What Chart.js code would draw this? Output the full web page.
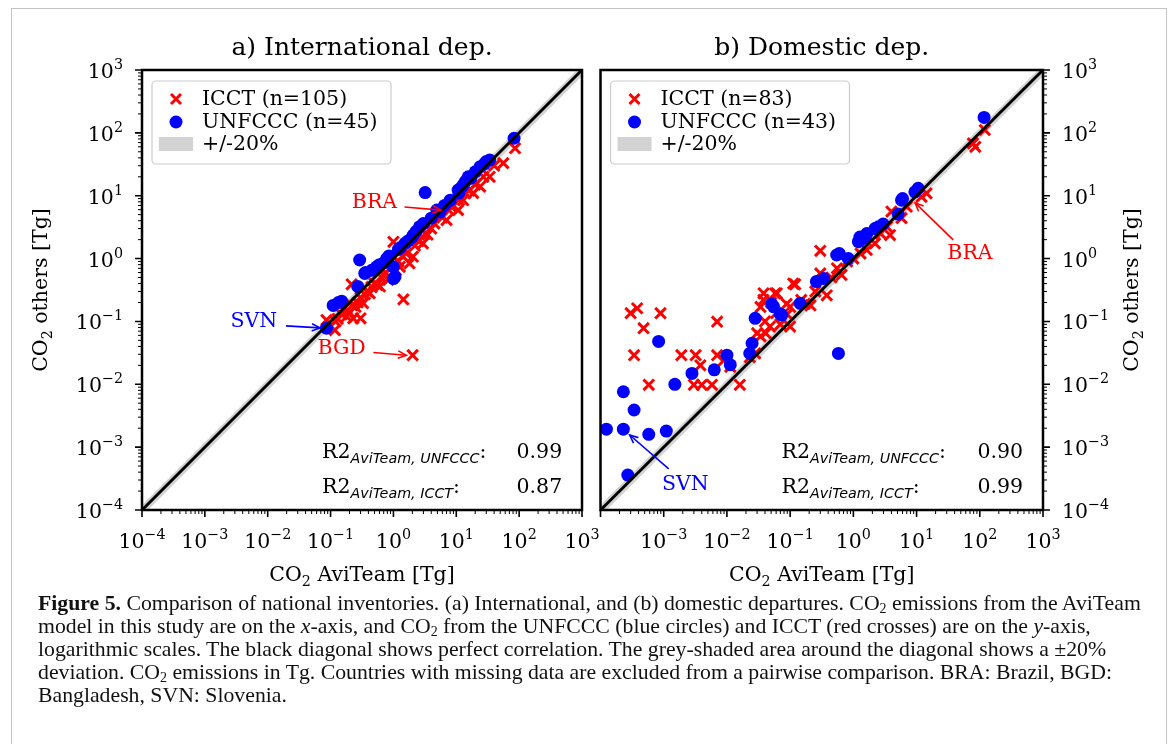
<!DOCTYPE html>
<html>
<head>
<meta charset="utf-8">
<script src="https://cdn.jsdelivr.net/npm/chart.js@4.4.1/dist/chart.umd.min.js"></script>
<style>
  html, body { margin: 0; padding: 0; background: #fff; }
  body { width: 1173px; height: 744px; position: relative; overflow: hidden; }
  .frame { position: absolute; left: 11px; top: 8px; width: 1154px; height: 800px;
           border: 1.5px solid #c4c4c4; border-bottom: none; }
  .panel { position: absolute; top: 0; height: 600px; }
  #boxA { left: 0; width: 600px; }
  #boxB { left: 590px; width: 583px; }
  .caption { position: absolute; left: 38px; top: 592px; font-family: "Liberation Serif", serif;
             font-size: 21.75px; line-height: 23px; color: #111; white-space: nowrap; }
  .caption sub { font-size: 14px; vertical-align: -3px; line-height: 0; }
</style>
</head>
<body>
<div class="frame"></div>
<div class="panel" id="boxA"><canvas id="chartA"></canvas></div>
<div class="panel" id="boxB"><canvas id="chartB"></canvas></div>
<div class="caption">
<b>Figure 5.</b> Comparison of national inventories. (a) International, and (b) domestic departures. CO<sub>2</sub> emissions from the AviTeam<br>
model in this study are on the <i>x</i>-axis, and CO<sub>2</sub> from the UNFCCC (blue circles) and ICCT (red crosses) are on the <i>y</i>-axis,<br>
logarithmic scales. The black diagonal shows perfect correlation. The grey-shaded area around the diagonal shows a ±20%<br>
deviation. CO<sub>2</sub> emissions in Tg. Countries with missing data are excluded from a pairwise comparison. BRA: Brazil, BGD:<br>
Bangladesh, SVN: Slovenia.
</div>
<script>
// ---- data (Tg CO2), [AviTeam, other inventory] ----
const intlIcct = [
  [0.086,0.105],[0.1,0.085],[0.117,0.073],[0.12,0.1],[0.13,0.11],[0.15,0.13],[0.16,0.155],[0.18,0.12],
  [0.2,0.14],[0.22,0.18],[0.216,0.39],[0.23,0.112],[0.25,0.17],[0.27,0.2],[0.3,0.112],[0.3,0.24],
  [0.33,0.195],[0.35,0.27],[0.38,0.3],[0.42,0.28],[0.45,0.35],[0.5,0.4],[0.55,0.38],[0.61,0.36],
  [0.65,0.5],[0.7,0.55],[0.75,0.6],[0.83,0.46],[0.9,0.7],[1.0,1.85],[1.0,0.8],[1.1,0.65],[1.2,0.9],
  [1.26,0.74],[1.44,0.224],[1.4,1.1],[1.6,1.2],[1.8,0.84],[2.02,0.029],[2.04,1.07],[2.2,1.6],[2.5,1.9],
  [2.95,1.74],[3.2,2.5],[3.5,2.4],[4.0,3.0],[4.5,3.6],[5.2,5.5],[5.5,5.2],[6.0,4.5],[7,4.1],[7.5,6],
  [8.5,6.5],[10.7,5.9],[11,8.5],[12.9,8.5],[14,11],[16,12],[18.6,11],[20,15],[24,14],[27,20],[34,20],
  [40,30],[56,33],[86,57]
];
const intlUnfccc = [
  [0.086,0.078],[0.11,0.18],[0.133,0.2],[0.15,0.21],[0.27,0.36],[0.29,0.95],[0.35,0.58],[0.36,0.6],
  [0.45,0.65],[0.54,0.74],[0.6,0.8],[0.7,0.85],[0.78,1.0],[0.85,1.1],[1.0,0.74],[1.06,0.51],[1.0,0.48],
  [1.2,1.4],[1.3,1.5],[1.53,1.75],[1.7,1.9],[2.0,2.2],[2.07,2.37],[2.3,2.7],[2.6,3.2],[3.0,3.6],
  [3.2,11.2],[4.0,4.4],[4.9,5.9],[5.5,5.5],[6.5,7],[8,8.5],[10.7,12.3],[11,11],[12,13.5],[13,15],
  [14,17],[15.5,20],[17,19],[20,24],[24,29],[28,32],[30,35],[34,37],[83,82]
];
const domIcct = [
  [120,111],[78,68],[85,60],[14.4,10.9],[12,9.6],[7,6.7],[5.8,4.4],[4,5.6],[3.8,2.37],[3.4,3.2],
  [2.7,2.5],[2.2,1.74],[1.63,1.37],[1.3,1.2],[1.0,1.0],[0.8,0.9],[0.3,1.33],[0.65,0.55],[0.55,0.7],
  [0.45,0.5],[0.38,0.26],[0.3,0.58],[0.25,0.3],[0.12,0.39],[0.21,0.18],[0.17,0.19],[0.15,0.22],
  [0.1,0.17],[0.088,0.19],[0.09,0.13],[0.058,0.28],[0.038,0.28],[0.034,0.17],[0.06,0.135],[0.04,0.1],
  [0.05,0.2],[0.048,0.083],[0.041,0.065],[0.034,0.058],[0.03,0.065],[0.07,0.09],[0.1,0.083],
  [0.028,0.031],[0.023,0.027],[0.007,0.099],[0.007,0.029],[0.0089,0.024],[0.0113,0.019],[0.0038,0.02],
  [0.0032,0.029],[0.0019,0.029],[0.003,0.0098],[0.004,0.0098],[0.0058,0.0098],[0.016,0.0098],
  [0.00058,0.0098],[0.00034,0.029],[0.00048,0.078],[0.0003,0.135],[0.00038,0.162],[0.00089,0.135],
  [0.0615,0.28],[0.112,0.4],[0.0378,0.22]
];
const domUnfccc = [
  [117,176],[10.6,13.1],[9.4,11.5],[5.8,8.5],[5.1,5.1],[6,9],[2.96,3.55],[2.5,3.2],[2.2,3.0],
  [1.63,2.5],[1.5,2.1],[1.27,2.2],[1.2,1.86],[0.545,1.14],[0.6,1.2],[0.58,0.031],[0.83,1.0],
  [0.34,0.48],[0.26,0.43],[0.144,0.194],[0.074,0.126],[0.055,0.171],[0.051,0.19],[0.07,0.13],
  [0.028,0.112],[0.025,0.045],[0.023,0.031],[0.01,0.029],[0.0113,0.0204],[0.0063,0.017],
  [0.0028,0.0149],[0.0015,0.01],[0.00083,0.048],[0.00023,0.0076],[0.00034,0.0039],
  [0.000124,0.00193],[0.00023,0.00193],[0.00058,0.0016],[0.0011,0.0018],[0.00027,0.00036]
];

// axis limits and tick exponents
const axisRange = [1e-4, 1e3];
const xTicksIntl = [-4, -3, -2, -1, 0, 1, 2, 3];
const xTicksDom = [-3, -2, -1, 0, 1, 2, 3];
const yTicks = [-4, -3, -2, -1, 0, 1, 2, 3];
const band = 0.2;

const titles = ['a) International dep.', 'b) Domestic dep.'];
const legendIntl = ['ICCT (n=105)', 'UNFCCC (n=45)', '+/-20%'];
const legendDom = ['ICCT (n=83)', 'UNFCCC (n=43)', '+/-20%'];
const r2Intl = ['0.99', '0.87'];
const r2Dom = ['0.90', '0.99'];

// annotations: label, text position, arrow tail, arrow head (data coords)
const notesIntl = [
  { text: 'BRA', color: '#ff0000', at: [0.5, 7.7], from: [1.5, 6.6], to: [5.7, 5.9] },
  { text: 'SVN', color: '#0000ff', at: [0.006, 0.1], from: [0.0195, 0.085], to: [0.068, 0.079] },
  { text: 'BGD', color: '#ff0000', at: [0.15, 0.037], from: [0.48, 0.032], to: [1.6, 0.029] }
];
const notesDom = [
  { text: 'BRA', color: '#ff0000', at: [70, 1.21], from: [38, 1.98], to: [9.5, 7.7] },
  { text: 'SVN', color: '#0000ff', at: [0.0022, 0.00025], from: [0.0012, 0.00045], to: [0.00029, 0.00156] }
];

const SERIF = '"DejaVu Serif", serif';
const SANS = '"DejaVu Sans", sans-serif';
const RED = '#ff0000', BLUE = '#0000ff', GREY = '#d3d3d3';
const FS = 20.5, FSS = 14.3;

// draw a sequence of text runs (for sub/superscripts)
function runs(ctx, parts, x, y, align) {
  let w = 0;
  parts.forEach(p => { ctx.font = p.font; w += ctx.measureText(p.t).width; });
  let cx = align === 'center' ? x - w / 2 : align === 'right' ? x - w : x;
  ctx.textAlign = 'left';
  parts.forEach(p => {
    ctx.font = p.font;
    ctx.fillText(p.t, cx, y + (p.dy || 0));
    cx += ctx.measureText(p.t).width;
  });
}
function pow10(e) {
  const s = e < 0 ? '\u2212' + Math.abs(e) : String(e);
  return [{ t: '10', font: FS + 'px ' + SERIF }, { t: s, font: FSS + 'px ' + SERIF, dy: -9 }];
}
function co2(rest) {
  return [{ t: 'CO', font: FS + 'px ' + SERIF }, { t: '2', font: FSS + 'px ' + SERIF, dy: 4.5 },
          { t: rest, font: FS + 'px ' + SERIF }];
}

function arrow(ctx, x1, y1, x2, y2, color) {
  const ang = Math.atan2(y2 - y1, x2 - x1), L = 9, spread = 0.42;
  ctx.strokeStyle = color; ctx.lineWidth = 1.6;
  ctx.beginPath(); ctx.moveTo(x1, y1); ctx.lineTo(x2, y2); ctx.stroke();
  ctx.beginPath();
  ctx.moveTo(x2 - L * Math.cos(ang - spread), y2 - L * Math.sin(ang - spread));
  ctx.lineTo(x2, y2);
  ctx.lineTo(x2 - L * Math.cos(ang + spread), y2 - L * Math.sin(ang + spread));
  ctx.stroke();
}

const deco = {
  id: 'deco',
  afterDraw(chart, args, o) {
    const { ctx, chartArea: a, scales: { x, y } } = chart;
    ctx.save();
    ctx.textBaseline = 'alphabetic';

    // annotations
    o.notes.forEach(n => {
      arrow(ctx, x.getPixelForValue(n.from[0]), y.getPixelForValue(n.from[1]),
            x.getPixelForValue(n.to[0]), y.getPixelForValue(n.to[1]), n.color);
      ctx.fillStyle = n.color; ctx.font = FS + 'px ' + SERIF; ctx.textAlign = 'center';
      ctx.textBaseline = 'middle';
      ctx.fillText(n.text, x.getPixelForValue(n.at[0]), y.getPixelForValue(n.at[1]));
      ctx.textBaseline = 'alphabetic';
    });

    // R2 text
    const subs = ['AviTeam, UNFCCC', 'AviTeam, ICCT'];
    [0, 1].forEach(i => {
      const by = a.top + a.height * (i === 0 ? 0.882 : 0.962);
      ctx.fillStyle = '#000';
      runs(ctx, [{ t: 'R2', font: FS + 'px ' + SERIF },
                 { t: subs[i], font: 'oblique ' + FSS + 'px ' + SANS, dy: 4.5 },
                 { t: ':', font: FS + 'px ' + SERIF }], a.left + a.width * 0.409, by, 'left');
      ctx.font = FS + 'px ' + SERIF; ctx.textAlign = 'right';
      ctx.fillText(o.r2[i], a.left + a.width * 0.955, by);
    });

    // legend
    const lx = a.left + 10, ly = a.top + 11, lw = 239, lh = 83;
    ctx.fillStyle = 'rgba(255,255,255,0.8)'; ctx.strokeStyle = '#cccccc'; ctx.lineWidth = 1.2;
    ctx.beginPath(); ctx.roundRect(lx, ly, lw, lh, 4); ctx.fill(); ctx.stroke();
    const rows = [ly + 18, ly + 41, ly + 63];
    const mx = lx + 24;
    ctx.strokeStyle = RED; ctx.lineWidth = 3;
    ctx.beginPath(); ctx.moveTo(mx - 5, rows[0] - 5); ctx.lineTo(mx + 5, rows[0] + 5);
    ctx.moveTo(mx + 5, rows[0] - 5); ctx.lineTo(mx - 5, rows[0] + 5); ctx.stroke();
    ctx.fillStyle = BLUE; ctx.beginPath(); ctx.arc(mx, rows[1], 6.5, 0, Math.PI * 2); ctx.fill();
    ctx.fillStyle = GREY; ctx.fillRect(lx + 7, rows[2] - 7, 34, 14);
    ctx.fillStyle = '#000'; ctx.font = FS + 'px ' + SERIF; ctx.textAlign = 'left'; ctx.textBaseline = 'middle';
    o.legend.forEach((t, i) => ctx.fillText(t, lx + 50, rows[i] + 1));
    ctx.textBaseline = 'alphabetic';

    // frame
    ctx.strokeStyle = '#000'; ctx.lineWidth = 2.5;
    ctx.strokeRect(a.left, a.top, a.width, a.height);

    // ticks
    const side = o.ySide;
    for (let e = -4; e <= 3; e++) {
      for (let m = 1; m <= 9; m++) {
        if (e === 3 && m > 1) break;
        const v = m * Math.pow(10, e), major = m === 1;
        const len = major ? 7 : 4;
        ctx.lineWidth = major ? 1.6 : 1;
        const px = x.getPixelForValue(v), py = y.getPixelForValue(v);
        ctx.beginPath();
        ctx.moveTo(px, a.bottom); ctx.lineTo(px, a.bottom + len);
        if (side === 'left') { ctx.moveTo(a.left, py); ctx.lineTo(a.left - len, py); }
        else { ctx.moveTo(a.right, py); ctx.lineTo(a.right + len, py); }
        ctx.stroke();
      }
    }

    // tick labels
    ctx.fillStyle = '#000';
    o.xTicks.forEach(e => runs(ctx, pow10(e), x.getPixelForValue(Math.pow(10, e)), a.bottom + 38, 'center'));
    yTicks.forEach(e => {
      const py = y.getPixelForValue(Math.pow(10, e)) + 8;
      if (side === 'left') runs(ctx, pow10(e), a.left - 19, py, 'right');
      else runs(ctx, pow10(e), a.right + 19, py, 'left');
    });

    // axis titles
    runs(ctx, co2(' AviTeam [Tg]'), (a.left + a.right) / 2, a.bottom + 71, 'center');
    ctx.save();
    const ty = (a.top + a.bottom) / 2;
    ctx.translate(side === 'left' ? a.left - 95 : a.right + 95, ty);
    ctx.rotate(-Math.PI / 2);
    runs(ctx, co2(' others [Tg]'), 0, 0, 'center');
    ctx.restore();

    // panel title
    ctx.font = '25px ' + SERIF; ctx.textAlign = 'center';
    ctx.fillText(o.title, (a.left + a.right) / 2, a.top - 15);
    ctx.restore();
  }
};

function pts(list) { return list.map(p => ({ x: p[0], y: p[1] })); }

function makeChart(id, icct, unfccc, pad, deco_) {
  return new Chart(document.getElementById(id), {
    type: 'scatter',
    data: {
      datasets: [
        { label: 'diagonal', type: 'line', data: axisRange.map(v => ({ x: v, y: v })),
          borderColor: '#000', borderWidth: 3, pointRadius: 0, order: 0 },
        { label: deco_.legend[1], data: pts(unfccc), pointStyle: 'circle', pointRadius: 6.5,
          backgroundColor: BLUE, borderWidth: 0, order: 1 },
        { label: deco_.legend[0], data: pts(icct), pointStyle: 'crossRot', pointRadius: 7.5,
          borderColor: RED, borderWidth: 3, order: 2 },
        { label: 'band high', type: 'line', data: axisRange.map(v => ({ x: v, y: v * (1 + band) })),
          borderWidth: 0, pointRadius: 0, fill: '+1', backgroundColor: GREY, order: 3 },
        { label: 'band low', type: 'line', data: axisRange.map(v => ({ x: v, y: v * (1 - band) })),
          borderWidth: 0, pointRadius: 0, fill: false, order: 4 }
      ]
    },
    options: {
      animation: false,
      responsive: true,
      maintainAspectRatio: false,
      events: [],
      layout: { padding: pad },
      scales: {
        x: { type: 'logarithmic', min: axisRange[0], max: axisRange[1], display: false },
        y: { type: 'logarithmic', min: axisRange[0], max: axisRange[1], display: false }
      },
      plugins: { legend: { display: false }, tooltip: { enabled: false }, deco: deco_ }
    },
    plugins: [deco]
  });
}

makeChart('chartA', intlIcct, intlUnfccc, { left: 142, top: 70, right: 18, bottom: 90 },
  { title: titles[0], legend: legendIntl, r2: r2Intl, notes: notesIntl, xTicks: xTicksIntl, ySide: 'left' });
makeChart('chartB', domIcct, domUnfccc, { left: 10, top: 70, right: 130, bottom: 90 },
  { title: titles[1], legend: legendDom, r2: r2Dom, notes: notesDom, xTicks: xTicksDom, ySide: 'right' });
</script>
</body>
</html>
